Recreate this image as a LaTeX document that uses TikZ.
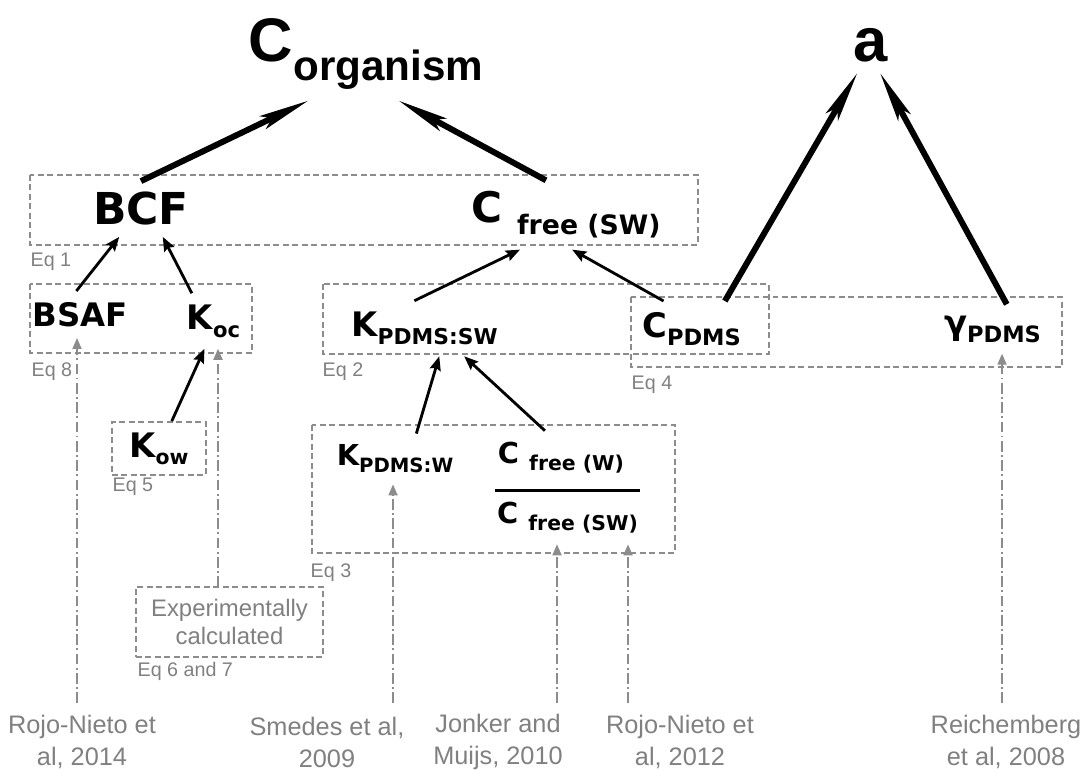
\documentclass[tikz,border=0pt]{standalone}
\usepackage{fontspec}
\setmainfont{Liberation Sans}
\newfontfamily\termfont{DejaVu Sans}
\usetikzlibrary{arrows.meta}
\definecolor{notegray}{RGB}{128,128,128}
\definecolor{linegray}{RGB}{140,140,140}
\newcommand{\lowsub}[3]{\raisebox{-#2}{\fontsize{#1}{#1}\selectfont #3}}

\begin{document}
\begin{tikzpicture}[x=0.01cm,y=-0.01cm,
  term/.style={inner sep=3pt,font=\termfont\bfseries},
  headterm/.style={inner sep=3pt,font=\bfseries},
  eqbox/.style={draw=linegray,line width=0.5pt,dash pattern=on 1.7pt off 1pt},
  eqlabel/.style={anchor=north west,inner sep=0pt,text=notegray,font=\fontsize{5.6}{6}\selectfont},
  cite/.style={align=center,inner sep=0pt,text=notegray,font=\fontsize{7.2}{9.1}\selectfont},
  bigarrow/.style={-{Stealth[length=5mm,width=1.4mm,inset=1mm]},line width=1.7pt},
  smallarrow/.style={-{Stealth[length=1.4mm,width=1.1mm,inset=0.2mm]},line width=0.8pt},
  srcarrow/.style={-{Triangle[length=1.1mm,width=0.9mm]},linegray,line width=0.5pt,dash pattern=on 3pt off 1pt on 0.5pt off 1pt}]
\useasboundingbox (0,0) rectangle (1083,771);

% equation boxes
\draw[eqbox] (30,175) rectangle (698,245);
\draw[eqbox] (30,284) rectangle (252,353);
\draw[eqbox] (323,284) rectangle (769,354);
\draw[eqbox] (631,297) rectangle (1062,367);
\draw[eqbox] (312,425) rectangle (675,553);
\node[eqlabel] (eq1) at (30,252) {Eq 1};
\node[eqlabel] (eq8) at (31,362) {Eq 8};
\node[eqlabel] (eq2) at (322,362) {Eq 2};
\node[eqlabel] (eq4) at (631,375) {Eq 4};
\node[eqlabel] (eq5) at (112,477) {Eq 5};
\node[eqlabel] (eq3) at (310,563) {Eq 3};
\node[eqlabel] (eq67) at (137,662) {Eq 6 and 7};

% quantities
\node[headterm] (corg) at (366,54) {\fontsize{17.5}{18}\selectfont C\lowsub{12}{5.4pt}{organism}};
\node[headterm] (aa) at (871,45) {\fontsize{17.5}{18}\selectfont a};
\node[term] (bcf) at (141,209) {\fontsize{12.5}{13}\selectfont BCF};
\node[term] (cfsw) at (566,215) {\fontsize{12}{13}\selectfont C \lowsub{7.6}{3.4pt}{free (SW)}};
\node[term] (bsaf) at (80.5,314.5) {\fontsize{9.2}{10}\selectfont BSAF};
\node[term] (koc) at (213.5,321) {\fontsize{9.6}{10}\selectfont K\lowsub{6}{2.3pt}{oc}};
\node[term] (kpsw) at (424.5,328.5) {\fontsize{9.6}{10}\selectfont K\lowsub{6.2}{2.3pt}{PDMS:SW}};
\node[term] (cpdms) at (691.5,329) {\fontsize{9.6}{10}\selectfont C\lowsub{6.4}{2.3pt}{PDMS}};
\node[term] (gpdms) at (992.5,329) {\fontsize{9.6}{10}\selectfont γ\lowsub{6.4}{2.3pt}{PDMS}};
\node[term,eqbox,minimum width=0.94cm,minimum height=0.47cm] (kow) at (159,448.5) {\fontsize{9.6}{10}\selectfont K\lowsub{5.8}{2pt}{ow}};
\node[term] (kpw) at (395,459) {\fontsize{8.2}{9}\selectfont K\lowsub{5.6}{2pt}{PDMS:W}};
\node[term] (cfw) at (561,457.5) {\fontsize{8.2}{9}\selectfont C \lowsub{5.8}{2pt}{free (W)}};
\node[term,inner xsep=0.4pt] (cfsw2) at (567.5,517.5) {\fontsize{8.2}{9}\selectfont C \lowsub{5.8}{2pt}{free (SW)}};
\draw[line width=0.9pt] (cfsw2.north west) -- (cfsw2.north east);
\node[eqbox,text=notegray,align=center,inner sep=0pt,minimum width=1.87cm,minimum height=0.7cm,font=\fontsize{6.8}{8}\selectfont] (exp) at (229.5,622) {Experimentally\\calculated};

% sources
\node[cite] (ref1) at (82,742) {Rojo-Nieto et\\al, 2014};
\node[cite] (ref2) at (327,742) {Smedes et al,\\2009};
\node[cite] (ref3) at (498,742) {Jonker and\\Muijs, 2010};
\node[cite] (ref4) at (680,742) {Rojo-Nieto et\\al, 2012};
\node[cite] (ref5) at (1006,742) {Reichemberg\\et al, 2008};

% arrows
\draw[bigarrow] (bcf.north) -- (corg.219);
\draw[bigarrow] (cfsw.120) -- (corg.305);
\draw[bigarrow] (cpdms.40) -- (aa.244);
\draw[bigarrow] (gpdms.60) -- (aa.288);
\draw[smallarrow] (bsaf.100) -- (bcf.232);
\draw[smallarrow] (koc.128) -- (bcf.308);
\draw[smallarrow] (kow.65) -- (koc.252);
\draw[smallarrow] (kpsw.110) -- (cfsw.217);
\draw[smallarrow] (cpdms.135) -- (cfsw.280);
\draw[smallarrow] (kpw.50) -- (kpsw.298);
\draw[smallarrow] (cfw.121) -- (kpsw.325);

% source lines
\coordinate (s1) at (77,703);
\coordinate (s2) at (218,587);
\coordinate (s3) at (393,703);
\coordinate (s4) at (557,703);
\coordinate (s5) at (628,703);
\coordinate (s6) at (1002,703);
\draw[srcarrow] (s1) -- (s1 |- bsaf.south);
\draw[srcarrow] (s2) -- (s2 |- koc.south);
\draw[srcarrow] (s3) -- (s3 |- kpw.south);
\draw[srcarrow] (s4) -- (s4 |- cfsw2.south);
\draw[srcarrow] (s5) -- (s5 |- cfsw2.south);
\draw[srcarrow] (s6) -- (s6 |- gpdms.south);
\end{tikzpicture}
\end{document}
